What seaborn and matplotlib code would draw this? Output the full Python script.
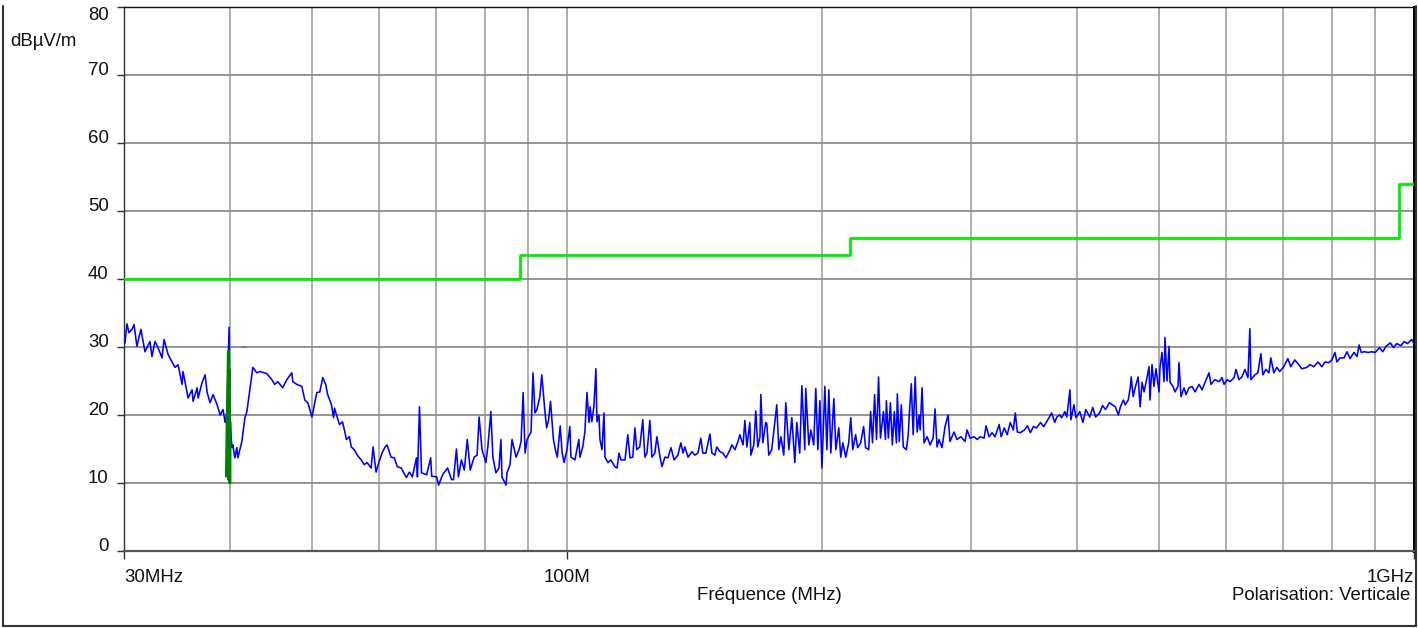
import matplotlib
matplotlib.use("Agg")
import matplotlib.pyplot as plt
from matplotlib.lines import Line2D
from matplotlib.ticker import FixedLocator, NullFormatter
import seaborn as sns

# ---------------- data ----------------
meas_freq_mhz = [
    30.0, 30.08, 30.24, 30.41, 30.66, 30.83, 31.07, 31.41, 31.76, 32.19, 32.37, 32.64, 32.91,
    33.27, 33.45, 33.82, 34.46, 34.75, 35.13, 35.22, 35.71, 36.10, 36.20, 36.60, 36.70, 37.10,
    37.40, 37.61, 37.91, 38.22, 38.64, 38.96, 39.27, 39.49, 39.70, 39.92, 40.0, 40.22, 40.33,
    40.55, 40.77, 40.88, 41.33, 41.67, 41.90, 42.23, 42.58, 43.04, 43.39, 44.22, 44.83, 45.20,
    45.57, 46.19, 46.70, 47.34, 47.47, 47.99, 48.65, 49.04, 49.45, 50.0, 50.67, 51.08, 51.50,
    51.91, 52.19, 52.73, 53.03, 53.17, 53.46, 53.89, 54.33, 54.62, 54.91, 55.36, 55.65, 56.10,
    56.55, 57.17, 57.63, 58.10, 58.73, 59.04, 59.52, 60.0, 60.50, 61.00, 61.33, 62.00, 62.56,
    63.05, 63.74, 64.63, 65.16, 65.70, 66.43, 66.61, 66.98, 67.35, 68.30, 69.05, 69.24, 70.19,
    70.56, 71.32, 72.29, 73.08, 73.47, 74.06, 74.46, 75.06, 75.66, 76.27, 76.89, 77.71, 78.34,
    78.76, 79.39, 80.22, 80.66, 81.32, 81.77, 82.45, 83.13, 83.58, 83.81, 84.74, 84.97, 85.67,
    86.14, 87.09, 87.80, 88.29, 88.77, 89.25, 89.74, 90.71, 91.19, 91.68, 92.17, 92.91, 93.40,
    94.15, 94.64, 95.14, 95.64, 96.40, 96.91, 97.42, 98.19, 98.71, 99.23, 100.0, 100.8, 101.1,
    102.2, 103.3, 103.6, 104.4, 105.0, 105.6, 106.2, 106.5, 107.0, 107.6, 108.2, 108.5, 109.1,
    109.4, 110.0, 110.6, 110.9, 111.8, 112.7, 113.9, 114.6, 115.2, 115.8, 117.1, 118.0, 118.7,
    119.6, 120.3, 120.9, 121.9, 122.9, 123.6, 124.3, 125.3, 126.0, 127.0, 127.7, 128.8, 129.5,
    130.5, 131.6, 132.7, 133.8, 135.2, 136.3, 137.1, 137.8, 139.0, 140.5, 141.6, 142.8, 143.9,
    144.7, 145.9, 147.5, 148.3, 149.5, 150.3, 151.6, 152.8, 154.1, 155.8, 156.6, 157.9, 159.2,
    160.0, 161.4, 162.2, 163.1, 164.4, 164.9, 166.2, 167.1, 168.0, 169.0, 169.4, 170.3, 171.7,
    172.2, 173.1, 174.5, 176.0, 176.9, 177.9, 178.9, 180.3, 181.3, 182.8, 184.3, 185.8, 186.8,
    188.3, 189.4, 190.9, 191.4, 193.0, 194.1, 195.6, 196.7, 197.8, 198.9, 200.0, 201.6, 202.7,
    203.8, 204.9, 206.6, 207.7, 209.4, 210.5, 211.7, 213.4, 215.1, 216.3, 217.5, 219.2, 220.4,
    222.2, 224.0, 225.2, 227.1, 228.3, 229.5, 230.8, 232.0, 233.3, 234.5, 236.4, 237.7, 238.3,
    239.6, 240.9, 242.2, 243.5, 244.9, 245.5, 246.8, 248.2, 249.5, 251.6, 252.9, 253.6, 255.0,
    256.3, 257.7, 259.1, 260.5, 261.2, 262.6, 264.0, 266.2, 268.4, 270.6, 272.0, 273.5, 275.0,
    277.2, 279.5, 281.8, 283.3, 286.4, 288.7, 291.9, 295.1, 296.7, 299.2, 302.5, 305.0, 307.5,
    310.8, 312.5, 315.0, 317.6, 320.2, 323.8, 325.6, 328.3, 331.0, 333.7, 336.5, 338.3, 340.2,
    343.0, 346.8, 349.7, 352.5, 355.4, 358.4, 362.4, 365.4, 368.4, 373.5, 376.6, 378.7, 381.8,
    383.9, 387.1, 389.2, 392.5, 393.5, 396.8, 398.9, 403.2, 406.5, 409.8, 414.2, 417.6, 420.9,
    425.5, 428.9, 432.3, 437.0, 440.6, 444.1, 447.7, 450.2, 453.8, 456.2, 459.9, 462.4, 463.6,
    466.1, 468.6, 472.4, 475.0, 477.5, 480.1, 484.0, 486.6, 487.9, 490.6, 493.2, 495.9, 500.0,
    501.4, 504.1, 506.9, 508.2, 511.0, 513.8, 515.2, 519.4, 522.2, 526.5, 527.9, 530.8, 535.2,
    538.1, 542.5, 547.0, 551.5, 557.5, 562.1, 566.7, 572.8, 575.9, 582.2, 588.6, 593.5, 596.7,
    601.6, 606.5, 613.1, 616.4, 621.4, 626.4, 631.5, 636.7, 640.1, 641.9, 648.9, 654.2, 659.5,
    663.1, 668.5, 674.0, 677.6, 683.2, 688.7, 694.3, 701.9, 709.6, 715.4, 723.2, 731.2, 737.2,
    747.3, 753.5, 761.7, 770.1, 778.5, 784.9, 793.5, 800.0, 806.6, 811.0, 817.7, 826.7, 833.5,
    840.4, 849.6, 856.6, 861.4, 866.4, 873.6, 883.2, 890.9, 900.0, 910.6, 918.6, 926.7, 937.6,
    945.9, 953.8, 965.1, 973.6, 982.3, 993.8, 1000.0,
]
meas_level_dbuv = [
    30.5, 30.6, 33.4, 32.1, 32.6, 33.3, 30.1, 32.6, 29.3, 30.8, 28.6, 30.8, 29.9,
    28.4, 31.1, 28.9, 27.0, 27.4, 24.5, 26.4, 22.5, 23.7, 22.0, 24.0, 22.5, 24.8,
    25.9, 23.3, 21.8, 23.0, 21.5, 20.0, 20.8, 18.9, 20.5, 32.9, 20.0, 15.2, 15.6,
    13.7, 15.2, 13.7, 16.1, 19.6, 20.5, 23.7, 27.0, 26.2, 26.4, 26.1, 25.2, 24.5,
    24.9, 24.0, 25.2, 26.2, 24.9, 24.5, 24.2, 22.2, 21.8, 19.7, 23.3, 23.4, 25.5,
    24.5, 23.0, 21.5, 19.6, 21.0, 20.0, 18.6, 19.0, 17.8, 16.4, 16.8, 15.3, 14.9,
    14.1, 13.4, 12.7, 13.0, 12.2, 15.3, 11.6, 13.1, 14.4, 15.3, 15.6, 13.8, 13.7,
    12.4, 12.2, 10.8, 11.6, 10.9, 13.7, 10.9, 21.2, 11.5, 11.2, 13.7, 11.0, 10.9,
    9.7, 11.2, 12.2, 10.5, 10.5, 15.0, 10.9, 13.4, 11.9, 16.4, 11.9, 13.8, 14.1,
    19.7, 14.9, 13.0, 15.3, 20.5, 13.8, 11.5, 12.2, 16.4, 10.9, 9.7, 11.5, 12.7,
    16.4, 13.8, 14.9, 16.1, 23.3, 14.4, 16.4, 17.5, 26.2, 20.3, 20.8, 22.7, 25.9,
    20.8, 18.1, 19.3, 22.0, 16.4, 14.9, 13.8, 18.4, 14.4, 13.0, 14.9, 18.3, 13.8,
    13.4, 16.4, 13.8, 15.3, 17.5, 23.3, 18.9, 21.2, 19.0, 21.2, 26.8, 19.0, 20.0,
    16.4, 14.9, 20.3, 13.8, 13.0, 13.4, 12.4, 12.2, 14.4, 13.4, 13.4, 17.1, 13.7,
    13.8, 18.1, 14.9, 15.3, 19.3, 13.8, 14.4, 19.2, 13.8, 14.4, 16.8, 13.8, 12.4,
    13.8, 13.7, 15.2, 13.4, 14.1, 15.9, 14.4, 15.3, 13.8, 14.6, 14.1, 14.4, 16.6,
    14.4, 14.4, 17.2, 14.4, 14.1, 15.3, 14.6, 14.4, 13.7, 14.9, 15.6, 14.9, 16.1,
    17.1, 15.6, 19.2, 15.3, 18.9, 14.1, 15.6, 20.6, 15.3, 16.8, 23.0, 15.9, 18.9,
    18.7, 14.1, 14.9, 19.0, 21.5, 14.9, 16.8, 14.1, 21.8, 14.9, 19.6, 13.0, 18.9,
    14.4, 24.3, 14.9, 23.9, 15.6, 17.8, 15.6, 23.9, 14.9, 22.1, 12.2, 24.2, 14.9,
    23.7, 14.4, 22.4, 14.9, 18.1, 13.8, 15.9, 13.8, 15.9, 19.6, 14.9, 17.1, 15.2,
    15.9, 18.3, 15.2, 14.9, 20.5, 15.9, 23.0, 16.4, 25.6, 16.6, 20.5, 16.4, 22.1,
    16.6, 21.8, 15.6, 20.5, 15.9, 23.1, 16.1, 21.5, 15.3, 14.9, 17.1, 20.0, 24.6,
    17.1, 25.6, 17.5, 20.0, 17.8, 24.0, 15.9, 16.8, 15.6, 16.6, 20.9, 15.3, 16.4,
    15.2, 18.3, 20.0, 16.1, 17.5, 16.4, 16.8, 16.1, 17.8, 16.6, 16.8, 16.4, 16.8,
    16.6, 18.4, 16.8, 17.4, 16.8, 18.6, 16.8, 18.1, 17.1, 18.9, 17.8, 20.3, 17.5,
    17.4, 17.8, 18.4, 17.4, 18.3, 18.1, 18.9, 18.3, 19.0, 20.3, 18.9, 19.7, 20.0,
    19.6, 20.5, 19.7, 23.7, 19.3, 21.5, 19.6, 20.5, 18.9, 20.8, 19.7, 21.1, 19.7,
    20.3, 21.4, 20.8, 21.8, 21.5, 21.2, 20.0, 21.2, 22.2, 21.5, 22.2, 24.0, 25.6,
    22.7, 24.0, 25.6, 21.2, 24.8, 23.4, 25.5, 27.1, 22.2, 27.4, 24.2, 26.8, 23.4,
    27.0, 29.2, 24.9, 31.4, 25.0, 30.1, 24.8, 24.2, 23.4, 24.2, 27.7, 22.7, 24.0,
    23.0, 24.0, 24.2, 23.4, 24.5, 23.7, 24.8, 26.2, 24.5, 25.2, 24.9, 25.5, 24.5,
    25.2, 24.9, 25.5, 26.7, 25.2, 25.6, 26.7, 25.5, 32.7, 25.2, 25.9, 26.2, 29.0,
    25.9, 26.7, 26.2, 28.4, 26.2, 27.0, 26.4, 27.1, 28.3, 27.1, 28.1, 27.4, 26.8,
    27.0, 27.4, 27.1, 27.8, 27.1, 27.8, 27.7, 28.1, 29.2, 27.8, 28.4, 28.4, 29.3,
    28.3, 29.2, 28.6, 30.3, 29.2, 29.3, 29.2, 29.3, 29.2, 29.9, 29.3, 30.1, 30.6,
    29.9, 30.5, 30.2, 30.8, 30.5, 31.1, 30.5,
]

# second (peak detector) trace around 40 MHz
peak_freq_mhz = [39.62, 39.70, 39.84, 39.88, 39.94, 40.00, 40.03]
peak_level_dbuv = [11.0, 18.9, 29.4, 10.5, 26.7, 10.0, 19.0]

# quasi-peak marker
marker_freq_mhz = [41.6]
marker_level_dbuv = [30.0]

# limit line (step)
limit_freq_mhz = [30, 88, 216, 960, 1000]
limit_level_dbuv = [40.0, 43.5, 46.0, 54.0, 54.0]

x_major_ticks = [30, 100, 1000]
x_major_labels = ["30MHz", "100M", "1GHz"]
x_minor_ticks = [40, 50, 60, 70, 80, 90, 200, 300, 400, 500, 600, 700, 800, 900]
y_ticks = [0, 10, 20, 30, 40, 50, 60, 70, 80]

# ---------------- style ----------------
sns.set_theme(style="white")
plt.rcParams["font.family"] = ["Liberation Sans", "DejaVu Sans"]
FS = 13.4

W, H = 1418, 628
fig = plt.figure(figsize=(W / 100, H / 100), dpi=100)
ax = fig.add_axes([124 / W, 1 - 551 / H, (1414 - 124) / W, (551 - 7) / H])

ax.set_xscale("log")
ax.set_xlim(30, 1000)
ax.set_ylim(0, 80)

# grid
ax.xaxis.set_major_locator(FixedLocator(x_major_ticks))
ax.xaxis.set_minor_locator(FixedLocator(x_minor_ticks))
ax.xaxis.set_minor_formatter(NullFormatter())
ax.set_xticklabels(x_major_labels)
ax.set_yticks(y_ticks)
ax.set_yticklabels([str(v) for v in y_ticks])
ax.set_axisbelow(True)
ax.grid(True, axis="x", which="both", color="#a8a8a8", linewidth=1.3)
ax.grid(True, axis="y", which="major", color="#8c8c8c", linewidth=1.3)

ax.tick_params(axis="x", which="major", length=6, width=1, color="#303030",
               pad=7, labelsize=FS, labelcolor="#111111", direction="out", bottom=True)
ax.tick_params(axis="x", which="minor", length=0)
ax.tick_params(axis="y", which="major", length=5, width=1, color="#303030",
               pad=6, labelsize=FS, labelcolor="#111111", direction="out", left=True)

labs = ax.get_xticklabels()
labs[0].set_ha("left")
labs[1].set_ha("center")
labs[2].set_ha("right")
for lab in ax.get_yticklabels():
    lab.set_va("baseline")
ax.get_yticklabels()[-1].set_va("top")

for side, col, lw in [("left", "#303030", 1.0), ("bottom", "#555555", 1.6),
                      ("top", "#111111", 1.0), ("right", "#000000", 2.2)]:
    ax.spines[side].set_visible(True)
    ax.spines[side].set_color(col)
    ax.spines[side].set_linewidth(lw)

# ---------------- traces ----------------
sns.lineplot(x=limit_freq_mhz, y=limit_level_dbuv, ax=ax, color="#00ee00",
             linewidth=2.0, drawstyle="steps-post", estimator=None, sort=False, zorder=3)
sns.lineplot(x=meas_freq_mhz, y=meas_level_dbuv, ax=ax, color="#0000ff",
             linewidth=1.15, estimator=None, sort=False, zorder=4)
sns.lineplot(x=peak_freq_mhz, y=peak_level_dbuv, ax=ax, color="#008000",
             linewidth=2.0, estimator=None, sort=False, zorder=5)
sns.scatterplot(x=marker_freq_mhz, y=marker_level_dbuv, ax=ax, marker="_",
                s=25, linewidth=1.5, color="#808080", zorder=5)

ax.set_xlabel("")
ax.set_ylabel("")

# ---------------- texts ----------------
fig.text(10 / W, 1 - 46 / H, "dBµV/m", fontsize=FS, color="#111111",
         ha="left", va="baseline")
fig.text(769 / W, 1 - 596 / H, "Fréquence (MHz)", fontsize=FS, color="#111111",
         ha="center", va="center")
fig.text(1410 / W, 1 - 596 / H, "Polarisation: Verticale", fontsize=FS,
         color="#111111", ha="right", va="center")

# outer frame
def fl(x0, y0, x1, y1, lw=1.5, c="#333333"):
    fig.add_artist(Line2D([x0 / W, x1 / W], [1 - y0 / H, 1 - y1 / H],
                          transform=fig.transFigure, color=c, linewidth=lw))

fl(3, 6, 3, 626)
fl(3, 626, 1416, 626)
fl(1416, 6, 1416, 626)

fig.savefig("out.png", dpi=100)
